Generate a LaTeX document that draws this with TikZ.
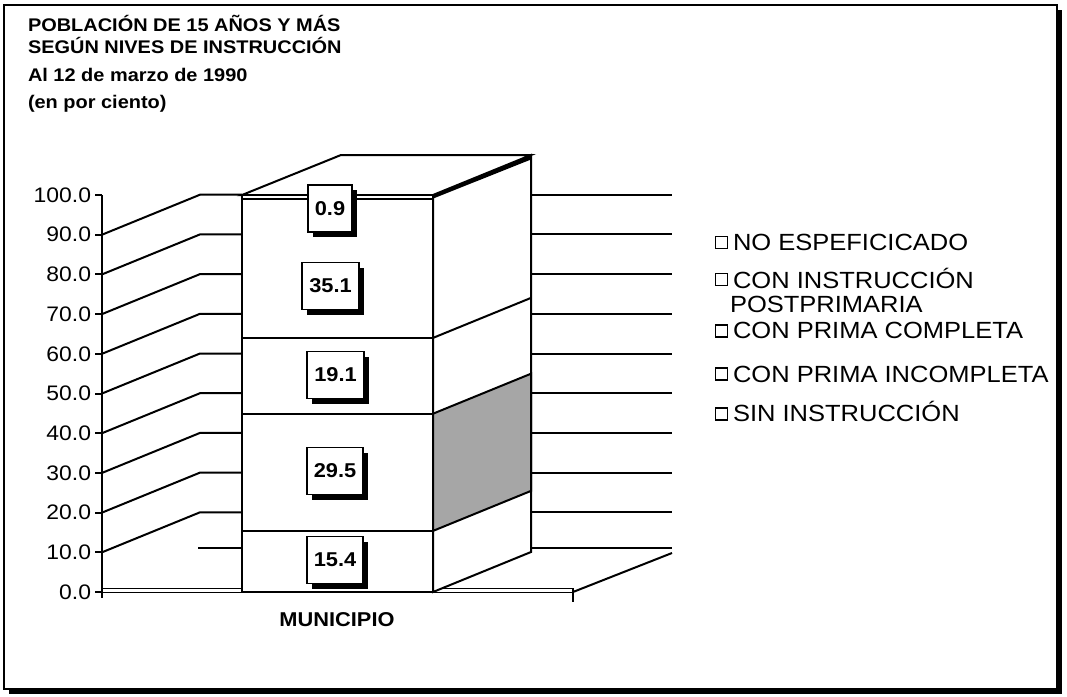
\documentclass[tikz,border=0pt]{standalone}
\usepackage{fontspec}
\setmainfont{Liberation Sans}[FakeStretch=1.09]
\usetikzlibrary{positioning}
\usetikzlibrary{shadows}

\begin{document}
\begin{tikzpicture}
		[x=1pt,y=-1pt,line width=2pt,
		shadowed/.style={drop shadow={shadow xshift=5pt,shadow yshift=-5pt,fill=black,opacity=1}},
		val/.style={draw,fill=white,line width=1.8pt,shadowed,font=\fontsize{20}{20}\selectfont\bfseries,minimum height=47pt,inner xsep=7pt},
		ylab/.style={anchor=east,inner sep=0pt,font=\fontsize{21}{21}\selectfont},
		ttl/.style={anchor=base west,inner sep=0pt,font=\fontsize{18.3}{18.3}\selectfont\bfseries},
		key/.style={draw,line width=1.6pt,minimum size=12pt,inner sep=0pt},
		keytext/.style={anchor=base west,inner sep=0pt,font=\fontsize{23.4}{24}\selectfont}]
		\useasboundingbox (0,0) rectangle (1067,696);
		\draw[fill=white,shadowed,line width=2pt] (4,5) rectangle (1057,689);
		\node[ttl] (t1) at (27,31) {POBLACIÓN DE 15 AÑOS Y MÁS};
		\node[ttl] (t2) at (27,53) {SEGÚN NIVES DE INSTRUCCIÓN};
		\node[ttl] (t3) at (27,81) {Al 12 de marzo de 1990};
		\node[ttl] (t4) at (27,108) {(en por ciento)};
		
		\foreach \v in {0,10,...,100}{
		\node[ylab] (y\v) at (92,{592-3.97*\v}) {\v.0};
		\draw (95,{592-3.97*\v}) -- (102,{592-3.97*\v});}
		\draw (102,195) -- (102,598);
		\foreach \v in {10,20,...,90}
		\draw (102,{592-3.97*\v}) -- (200,{552-3.97*\v}) -- (242,{552-3.97*\v});
		\foreach \v in {10,20,...,90}
		\draw (531,{552-3.97*\v}) -- (672,{552-3.97*\v});
		\draw (198,548) -- (242,548);
		\draw (531,548) -- (672,548);
		\draw[line width=1.5pt] (102,588.5) -- (573,588.5);
		\draw[line width=1.5pt] (102,592.5) -- (573,592.5);
		\draw (573,588) -- (573,602);
		\draw (573,592) -- (672,553);
		
		\draw[fill=white] (433,195) -- (531,155) -- (531,552) -- (433,592) -- cycle;
		\draw[fill=black!35] (433,413.7) -- (531,373.7) -- (531,490.9) -- (433,530.9) -- cycle;
		\draw (433,337.9) -- (531,297.9);
		\fill (433,195) -- (531,155) -- (531,159.5) -- (433,198.6) -- cycle;
		\draw[fill=white] (242,195) -- (341,155) -- (531,155) -- (433,195) -- cycle;
		\draw[fill=white] (242,195) rectangle (433,592);
		\foreach \y in {198.6,337.9,413.7,530.9}
		\draw (242,\y) -- (433,\y);
		
		\node[val] (p1) at (330,208.5) {0.9};
		\node[val] (p2) at (330.5,286) {35.1};
		\node[val] (p3) at (335.5,375) {19.1};
		\node[val] (p4) at (335,471) {29.5};
		\node[val] (p5) at (335,560) {15.4};
		\node[font=\fontsize{20}{20}\selectfont\bfseries] (mun) at (337,620) {MUNICIPIO};
		
		\node[key] (k1) at (721.5,242.5) {};
		\node[key] (k2) at (721.5,279.5) {};
		\node[key] (k3) at (721.5,331) {};
		\node[key] (k4) at (721.5,374) {};
		\node[key] (k5) at (721.5,414) {};
		\node[keytext] (l1) at (732,250) {NO ESPEFICICADO};
		\node[keytext] (l2) at (732,288) {CON INSTRUCCIÓN};
		\node[keytext] (l2b) at (729,312) {POSTPRIMARIA};
		\node[keytext] (l3) at (732,338) {CON PRIMA COMPLETA};
		\node[keytext] (l4) at (732,382) {CON PRIMA INCOMPLETA};
		\node[keytext] (l5) at (732,421) {SIN INSTRUCCIÓN};
\end{tikzpicture}
\end{document}
